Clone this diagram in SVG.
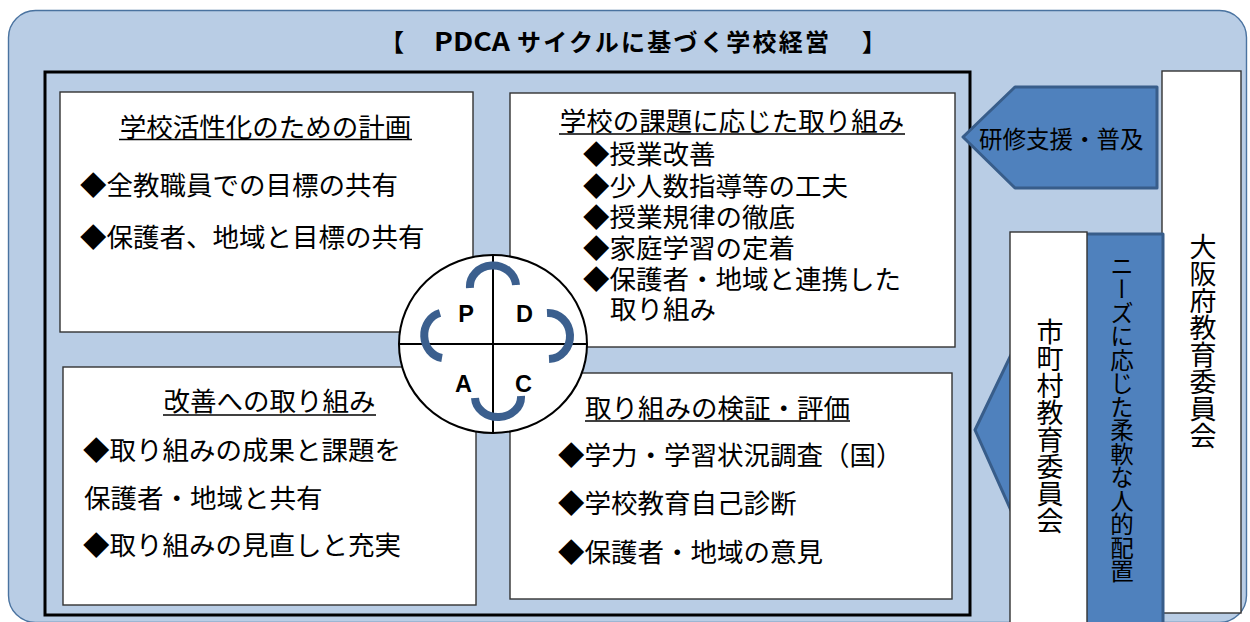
<svg xmlns="http://www.w3.org/2000/svg" width="1250" height="622" viewBox="0 0 1250 622">
<style>
.jp{font-family:"Noto Sans CJK JP","Noto Sans CJK SC",sans-serif;fill:#000}
.box{fill:#fff;stroke:#333;stroke-width:1.4}
.t{font-size:26.5px}
.ul{stroke:#000;stroke-width:1.6}
.blue{fill:#4F81BD;stroke:#385D8A;stroke-width:3;stroke-linejoin:round}
.arc{fill:none;stroke:#3B5F8E;stroke-width:8;stroke-linecap:butt}
.pd{font-family:"Liberation Sans",Arial,sans-serif;font-weight:bold;font-size:23.5px;text-anchor:middle}
.vt{writing-mode:vertical-rl}
</style>
<g id="background">
<rect x="8.5" y="10.5" width="1238" height="612" rx="27" fill="#B9CDE5" stroke="#4A73A0" stroke-width="1.4"/>
<text class="jp" font-weight="bold" font-size="24" y="51"><tspan x="380">【</tspan><tspan x="434" font-size="25" textLength="76" lengthAdjust="spacingAndGlyphs">PDCA</tspan><tspan x="517" letter-spacing="2.3">サイクルに基づく学校経営</tspan><tspan x="862">】</tspan></text>
<rect x="45" y="72" width="925" height="543" fill="none" stroke="#000" stroke-width="3"/>
</g>
<g id="plan">
<rect class="box" x="60" y="92" width="413" height="240"/>
<text class="jp t" x="265.5" y="136.5" text-anchor="middle">学校活性化のための計画</text>
<line class="ul" x1="119" y1="139.5" x2="412" y2="139.5"/>
<text class="jp t" x="80" y="195">◆全教職員での目標の共有</text>
<text class="jp t" x="80" y="246.5">◆保護者、地域と目標の共有</text>
</g>
<g id="do">
<rect class="box" x="510" y="93" width="445" height="254"/>
<text class="jp t" x="732" y="130.5" text-anchor="middle">学校の課題に応じた取り組み</text>
<line class="ul" x1="559" y1="134" x2="905" y2="134"/>
<text class="jp t" x="583" y="164">◆授業改善</text>
<text class="jp t" x="583" y="195.5">◆少人数指導等の工夫</text>
<text class="jp t" x="583" y="226.5">◆授業規律の徹底</text>
<text class="jp t" x="583" y="257.5">◆家庭学習の定着</text>
<text class="jp t" x="583" y="288.5">◆保護者・地域と連携した</text>
<text class="jp t" x="610" y="318.5">取り組み</text>
</g>
<g id="act">
<rect class="box" x="63" y="367" width="413" height="238"/>
<text class="jp t" x="269.5" y="411" text-anchor="middle">改善への取り組み</text>
<line class="ul" x1="163" y1="415" x2="376" y2="415"/>
<text class="jp t" x="83" y="460">◆取り組みの成果と課題を</text>
<text class="jp t" x="84" y="508">保護者・地域と共有</text>
<text class="jp t" x="83" y="555">◆取り組みの見直しと充実</text>
</g>
<g id="check">
<rect class="box" x="510" y="373" width="442" height="226"/>
<text class="jp t" x="717.5" y="418" text-anchor="middle">取り組みの検証・評価</text>
<line class="ul" x1="585" y1="421" x2="850" y2="421"/>
<text class="jp t" x="558" y="465">◆学力・学習状況調査（国）</text>
<text class="jp t" x="558" y="513">◆学校教育自己診断</text>
<text class="jp t" x="558" y="562">◆保護者・地域の意見</text>
</g>
<g id="pdca-cycle">
<ellipse cx="493" cy="344" rx="94" ry="89" fill="#fff" stroke="#000" stroke-width="2"/>
<line x1="493" y1="255" x2="493" y2="433" stroke="#000" stroke-width="2"/>
<line x1="399" y1="344" x2="587" y2="344" stroke="#000" stroke-width="2"/>
<text class="pd" x="466" y="322">P</text>
<text class="pd" x="524.5" y="322">D</text>
<text class="pd" x="463.5" y="392">A</text>
<text class="pd" x="523.5" y="392">C</text>
</g>
<g id="osaka">
<rect x="1162" y="71" width="79" height="542" fill="#fff" stroke="#333" stroke-width="1.4"/>
<text class="jp vt" x="1203" y="233" font-size="27">大阪府教育委員会</text>
</g>
<g id="connectors">
<path class="arc" d="M470 288 A23 21 0 0 1 516 285"/>
<path class="arc" d="M547 313 A22 23 0 0 1 549 359"/>
<path class="arc" d="M521 396 A23 20 0 0 1 475 398"/>
<path class="arc" d="M442 358 A21 23 0 0 1 440 313"/>
<g id="kenshu">
<polygon class="blue" points="963,137 1015,87 1157,87 1157,188 1015,188"/>
<text class="jp" x="979" y="148" font-size="23.5">研修支援・普及</text>
</g>
<g id="needs">
<polygon class="blue" points="975,430 1069,234 1163,234 1163,640 1069,640"/>
<text class="jp vt" x="1122" y="254" font-size="23.5">ニーズに応じた柔軟な人的配置</text>
</g>
</g>
<g id="shichoson">
<rect x="1010" y="232" width="77" height="410" fill="#fff" stroke="#333" stroke-width="1.4"/>
<text class="jp vt" x="1050" y="318" font-size="27">市町村教育委員会</text>
</g>
</svg>
